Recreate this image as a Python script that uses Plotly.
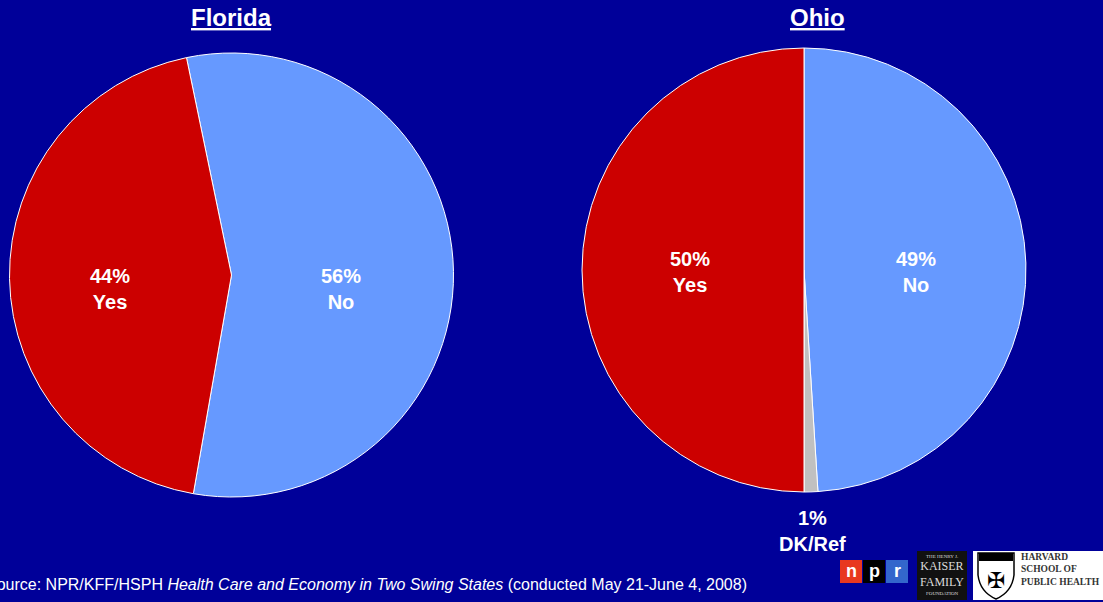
import plotly.graph_objects as go

W, H = 1103, 602

florida_labels = ["No", "Yes"]
florida_values = [56, 44]
florida_colors = ["#6699FF", "#CC0000"]

ohio_labels = ["No", "DK/Ref", "Yes"]
ohio_values = [49, 1, 50]
ohio_colors = ["#6699FF", "#C0C0C0", "#CC0000"]

source_text = "Source: NPR/KFF/HSPH <i>Health Care and Economy in Two Swing States</i> (conducted May 21-June 4, 2008)"

BG = "#000099"
FONT = "Liberation Sans, Arial, sans-serif"

def px(x):
    return x / W

def py(y):
    return 1 - y / H

fig = go.Figure()

fig.add_trace(go.Pie(
    labels=florida_labels, values=florida_values, sort=False,
    direction="clockwise", rotation=-11.7,
    marker=dict(colors=florida_colors, line=dict(color="white", width=1)),
    textinfo="none", hoverinfo="label+percent", showlegend=False,
    domain=dict(x=[px(9), px(454)], y=[py(497), py(53)]),
))
fig.add_trace(go.Pie(
    labels=ohio_labels, values=ohio_values, sort=False,
    direction="clockwise", rotation=0,
    marker=dict(colors=ohio_colors, line=dict(color="white", width=1)),
    textinfo="none", hoverinfo="label+percent", showlegend=False,
    domain=dict(x=[px(582), px(1026)], y=[py(492), py(48)]),
))

annotations = []
# titles
for name, x in [("Florida", 231), ("Ohio", 817)]:
    annotations.append(dict(
        text=f"<b><u>{name}</u></b>", x=px(x), y=py(17), xref="paper", yref="paper",
        showarrow=False, font=dict(family=FONT, size=24, color="white"),
        xanchor="center", yanchor="middle"))

label_pos_florida = {"No": (341, 289), "Yes": (110, 289)}
label_pos_ohio = {"No": (916, 272), "Yes": (690, 272), "DK/Ref": (812, 531)}

for lab, val in zip(florida_labels, florida_values):
    x, y = label_pos_florida[lab]
    annotations.append(dict(
        text=f"<b>{val}%<br>{lab}</b>", x=px(x), y=py(y), xref="paper", yref="paper",
        showarrow=False, font=dict(family=FONT, size=20, color="white"),
        xanchor="center", yanchor="middle", align="center"))
for lab, val in zip(ohio_labels, ohio_values):
    x, y = label_pos_ohio[lab]
    annotations.append(dict(
        text=f"<b>{val}%<br>{lab}</b>", x=px(x), y=py(y), xref="paper", yref="paper",
        showarrow=False, font=dict(family=FONT, size=20, color="white"),
        xanchor="center", yanchor="middle", align="center"))

annotations.append(dict(
    text=source_text, x=px(749), y=py(584), xref="paper", yref="paper",
    showarrow=False, font=dict(family=FONT, size=16, color="white"),
    xanchor="right", yanchor="middle"))

shapes = []
# npr logo
for (x0, x1, col, ch) in [(840, 862, "#E8381F", "n"), (863, 885, "#000000", "p"), (886, 908, "#3366CC", "r")]:
    shapes.append(dict(type="rect", xref="paper", yref="paper", x0=px(x0), x1=px(x1),
                       y0=py(583), y1=py(560), fillcolor=col, line=dict(width=0)))
    annotations.append(dict(text=f"<b>{ch}</b>", x=px((x0 + x1) / 2), y=py(571), xref="paper", yref="paper",
                            showarrow=False, font=dict(family=FONT, size=18, color="white"),
                            xanchor="center", yanchor="middle"))
# Kaiser logo
shapes.append(dict(type="rect", xref="paper", yref="paper", x0=px(917), x1=px(967),
                   y0=py(600), y1=py(551), fillcolor="#111111", line=dict(width=0)))
annotations.append(dict(text="THE HENRY J.", x=px(942), y=py(556), xref="paper", yref="paper",
                        showarrow=False, font=dict(family="Liberation Serif, serif", size=5, color="#DDDDDD"),
                        xanchor="center", yanchor="middle"))
annotations.append(dict(text="KAISER<br>FAMILY", x=px(942), y=py(574), xref="paper", yref="paper",
                        showarrow=False, font=dict(family="Liberation Serif, serif", size=12, color="#DDDDDD"),
                        xanchor="center", yanchor="middle", align="center"))
annotations.append(dict(text="FOUNDATION", x=px(942), y=py(593), xref="paper", yref="paper",
                        showarrow=False, font=dict(family="Liberation Serif, serif", size=5, color="#DDDDDD"),
                        xanchor="center", yanchor="middle"))
# Harvard logo
shapes.append(dict(type="rect", xref="paper", yref="paper", x0=px(973), x1=px(1103),
                   y0=py(600), y1=py(551), fillcolor="white", line=dict(width=0)))
shapes.append(dict(type="path", xref="paper", yref="paper",
                   path=f"M {px(978)},{py(553)} L {px(1014)},{py(553)} L {px(1014)},{py(575)} "
                        f"Q {px(1012)},{py(592)} {px(996)},{py(599)} Q {px(980)},{py(592)} {px(978)},{py(575)} Z",
                   fillcolor="white", line=dict(color="black", width=1.5)))
shapes.append(dict(type="rect", xref="paper", yref="paper", x0=px(979), x1=px(1013),
                   y0=py(561), y1=py(553), fillcolor="black", line=dict(width=0)))
annotations.append(dict(text="✠", x=px(996), y=py(580), xref="paper", yref="paper",
                        showarrow=False, font=dict(family="DejaVu Sans, sans-serif", size=22, color="black"),
                        xanchor="center", yanchor="middle"))
annotations.append(dict(text="<b>HARVARD<br>SCHOOL OF<br>PUBLIC HEALTH</b>", x=px(1019), y=py(569), xref="paper", yref="paper",
                        showarrow=False, font=dict(family="Liberation Serif, serif", size=9.5, color="#333333"),
                        xanchor="left", yanchor="middle", align="left"))

fig.update_layout(
    width=W, height=H, margin=dict(l=0, r=0, t=0, b=0),
    paper_bgcolor=BG, plot_bgcolor=BG,
    annotations=annotations, shapes=shapes, showlegend=False,
)

fig.write_html("out.html", config={"displayModeBar": False},
               post_script="document.body.style.margin='0';document.body.style.background='#000099';")
